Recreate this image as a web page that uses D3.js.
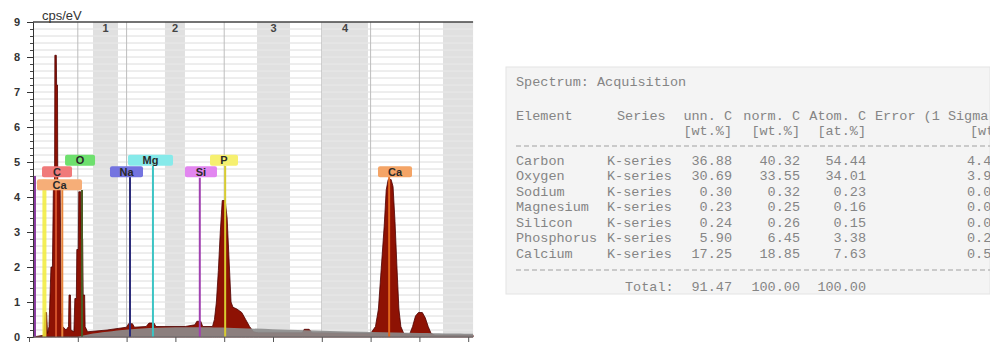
<!DOCTYPE html>
<html><head><meta charset="utf-8">
<script src="https://cdn.jsdelivr.net/npm/d3@7"></script>
<style>body{margin:0;background:#fff}svg{display:block}</style>
</head><body><svg id="c" width="990" height="342"></svg>
<script>
// ---------- spectrum data (keV, cps/eV) ----------
const spectrumKeV = [0.04,0.15,0.165,0.18,0.19,0.205,0.225,0.24,0.25,0.262,0.265,0.28,0.283,0.292,0.295,0.32,0.33,0.345,0.38,0.405,0.41,0.425,0.43,0.46,0.47,0.485,0.49,0.505,0.51,0.53,0.535,0.55,0.555,0.57,0.575,0.6,0.8,1.0,1.02,1.06,1.08,1.2,1.23,1.28,1.3,1.6,1.7,1.72,1.76,1.78,1.88,1.9,1.92,1.94,1.96,1.98,2.01,2.03,2.05,2.07,2.09,2.13,2.18,2.22,2.26,2.3,2.35,2.8,2.82,2.87,2.9,3.5,3.55,3.58,3.61,3.64,3.66,3.68,3.71,3.73,3.75,3.77,3.79,3.81,3.84,3.9,3.93,3.96,3.99,4.03,4.06,4.09,4.12,4.16,4.55];
const spectrumCps = [0,0.05,0.7,0.7,0.1,0.3,2.0,2.0,4.3,4.3,8.05,8.05,7.2,7.2,4.3,4.2,0.7,0.3,0.2,0.3,1.2,1.2,0.2,0.15,1.1,1.1,2.5,2.5,4.15,4.15,2.8,2.8,1.2,1.2,0.3,0.15,0.2,0.28,0.38,0.38,0.28,0.3,0.4,0.4,0.3,0.3,0.35,0.45,0.45,0.3,0.3,0.5,1.0,1.9,3.0,3.9,3.9,3.4,2.2,1.0,0.85,0.8,0.7,0.5,0.3,0.15,0.12,0.12,0.22,0.22,0.12,0.1,0.3,0.8,2.0,3.2,4.2,4.5,4.5,4.3,3.3,2.0,0.8,0.3,0.1,0.08,0.3,0.6,0.7,0.7,0.55,0.3,0.1,0.05,0.05];
const backgroundKeV = [0.5,0.6,0.8,1.0,1.3,1.7,2.0,2.5,3.0,3.5,4.0,4.55];
const backgroundCps = [0,0.08,0.15,0.22,0.27,0.28,0.27,0.22,0.18,0.14,0.11,0.09];

// ---------- axes ----------
const yMajorTicks = [0,1,2,3,4,5,6,7,8,9];
const yUnitLabel = "cps/eV";
const xTickKeV = [0,0.5,1,1.5,2,2.5,3,3.5,4,4.5];

// ---------- shaded windows ----------
const bandStartKeV = [0.656,1.393,2.336,3.002,4.242];
const bandEndKeV   = [0.912,1.598,2.674,3.473,4.55];
const bandLabels   = ["1","2","3","4",""];

// ---------- element marker lines ----------
const markerKeV   = [0.061,0.158,0.277,0.341,0.543,1.035,1.27,1.75,2.01,3.69];
const markerTop   = [4.6,4.5,4.57,4.2,4.2,4.57,4.89,4.55,4.89,4.57];
const markerColor = ["#8a3aa0","#f2ec3a","#d2502a","#e8843a","#4a5a22","#2c2c7a","#3cc4c4","#a040b0","#d8cc30","#e0661e"];

// ---------- element labels ----------
const labelText  = ["O","Mg","P","C","Na","Si","Ca","Ca"];
const labelKeV   = [0.523,1.245,1.998,0.287,0.999,1.762,3.75,0.3125];
const labelLevel = [5.05,5.05,5.05,4.72,4.72,4.72,4.72,4.35];
const labelWidth = [30,45,28,30,33,32,34,45];
const labelColor = ["#6ee06e","#86eaea","#f6f070","#f07a7a","#7474e0","#e286f0","#f4a466","#f6ae78"];

// ---------- quantification table ----------
const tableTitle = "Spectrum: Acquisition";
const tableHeaders = ["Element","Series","unn. C","norm. C","Atom. C","Error (1 Sigma)"];
const tableUnits = ["[wt.%]","[wt.%]","[at.%]","[wt.%]"];
const elements = ["Carbon","Oxygen","Sodium","Magnesium","Silicon","Phosphorus","Calcium"];
const series = ["K-series","K-series","K-series","K-series","K-series","K-series","K-series"];
const unnC  = ["36.88","30.69","0.30","0.23","0.24","5.90","17.25"];
const normC = ["40.32","33.55","0.32","0.25","0.26","6.45","18.85"];
const atomC = ["54.44","34.01","0.23","0.16","0.15","3.38","7.63"];
const errC  = ["4.4","3.9","0.0","0.0","0.0","0.2","0.5"];
const totalRow = ["Total:","91.47","100.00","100.00"];

// ================== drawing ==================
const svg = d3.select("#c");
const x = d3.scaleLinear().domain([0,4.5]).range([29,468.2]);
const y = d3.scaleLinear().domain([0,9]).range([337,22]);
const xL = x(0.041), xR = x(4.55);

const plot = svg.append("g");
plot.append("rect").attr("x",xL).attr("y",y(9)).attr("width",xR-xL).attr("height",y(0)-y(9)).attr("fill","#fff");

const minor = d3.range(1,45).map(i=>i*0.2);
plot.selectAll("line.hg").data(minor).join("line")
  .attr("x1",xL).attr("x2",xR).attr("y1",d=>y(d)).attr("y2",d=>y(d))
  .attr("stroke","#dcdcdc").attr("stroke-width",1);
plot.selectAll("line.vg").data(xTickKeV.filter(d=>d>0)).join("line")
  .attr("x1",d=>x(d)).attr("x2",d=>x(d)).attr("y1",y(9)).attr("y2",y(0))
  .attr("stroke","#bdbdbd").attr("stroke-width",1);

const bands = bandStartKeV.map((s,i)=>({s,e:bandEndKeV[i],label:bandLabels[i]}));
plot.selectAll("rect.band").data(bands).join("rect")
  .attr("x",d=>x(d.s)).attr("width",d=>x(d.e)-x(d.s))
  .attr("y",y(9)).attr("height",y(0)-y(9)).attr("fill","#e0e0e0");
bands.forEach(b=>{
  plot.append("g").selectAll("line").data(minor).join("line")
    .attr("x1",x(b.s)).attr("x2",x(b.e)).attr("y1",d=>y(d)).attr("y2",d=>y(d))
    .attr("stroke","#e9e9e9").attr("stroke-width",1);
});
plot.selectAll("text.bl").data(bands).join("text")
  .attr("x",d=>(x(d.s)+x(d.e))/2).attr("y",32).attr("text-anchor","middle")
  .attr("font-family","Liberation Sans, Arial").attr("font-weight","bold").attr("font-size",11)
  .attr("fill","#444").text(d=>d.label);

// spectrum
const spec = spectrumKeV.map((k,i)=>[k,spectrumCps[i]]);
const area = d3.area().x(d=>x(d[0])).y0(y(0)).y1(d=>y(d[1]));
plot.append("path").datum(spec).attr("d",area)
  .attr("fill","#8e1204").attr("stroke","#4e0000").attr("stroke-width",0.8);
const bg = backgroundKeV.map((k,i)=>[k,backgroundCps[i]]);
plot.append("path").datum(bg).attr("d",area.curve(d3.curveBasis))
  .attr("fill","#8c8c8c").attr("opacity",0.9);

// markers
plot.selectAll("line.mk").data(markerKeV).join("line")
  .attr("x1",d=>x(d)).attr("x2",d=>x(d)).attr("y1",(d,i)=>y(markerTop[i])).attr("y2",y(0))
  .attr("stroke",(d,i)=>markerColor[i]).attr("stroke-width",(d,i)=>i===1?4:2)
  .attr("opacity",(d,i)=>i===1?0.85:1);

// labels
const lg = plot.selectAll("g.lab").data(labelText).join("g")
  .attr("transform",(d,i)=>`translate(${x(labelKeV[i])},${y(labelLevel[i])})`);
lg.append("rect").attr("x",(d,i)=>-labelWidth[i]/2).attr("y",-5.5)
  .attr("width",(d,i)=>labelWidth[i]).attr("height",11).attr("rx",2)
  .attr("fill",(d,i)=>labelColor[i]);
lg.append("text").attr("y",4).attr("text-anchor","middle")
  .attr("font-family","Liberation Sans, Arial").attr("font-size",11).attr("font-weight","bold")
  .attr("fill","#2a2a2a").text(d=>d);

// axes
const yMinorAxis = d3.axisLeft(y).tickValues(d3.range(0,45).map(i=>i*0.2)).tickSize(3).tickFormat("");
const ga = svg.append("g").attr("transform",`translate(${xL},0)`).call(yMinorAxis);
ga.select(".domain").remove();
ga.selectAll("line").attr("stroke","#444");
const yMajorAxis = d3.axisLeft(y).tickValues(yMajorTicks).tickSize(6).tickPadding(7).tickFormat(d3.format("d"));
const gb = svg.append("g").attr("transform",`translate(${xL},0)`).call(yMajorAxis);
gb.select(".domain").attr("stroke","#333");
gb.selectAll("line").attr("stroke","#333");
gb.selectAll("text").attr("font-family","Liberation Sans, Arial").attr("font-size",11)
  .attr("font-weight","bold").attr("fill","#333").attr("dy","0.3em");

const xAxis = d3.axisBottom(x).tickValues(xTickKeV).tickSize(5).tickFormat("");
const gx = svg.append("g").attr("transform",`translate(0,${y(0)})`).call(xAxis);
gx.select(".domain").attr("d",`M${xL},0H${xR}`).attr("stroke","#666");
gx.selectAll("line").attr("stroke","#555");

svg.append("line").attr("x1",xL).attr("x2",xR).attr("y1",y(9)).attr("y2",y(9))
  .attr("stroke","#444").attr("stroke-width",1.5);
svg.append("text").attr("x",42).attr("y",20).attr("font-family","Liberation Sans, Arial")
  .attr("font-size",13).attr("fill","#333").text(yUnitLabel);

// ================== table ==================
svg.append("rect").attr("x",506).attr("y",67).attr("width",484).attr("height",227)
  .attr("fill","#f4f4f4").attr("stroke","#e4e4e4");
const tg = svg.append("g").attr("font-family","Liberation Mono, monospace").attr("font-size",13.5).attr("fill","#858585");
const tx0 = 516;
const colEnd = {unn:732, norm:800, atom:866};
tg.append("text").attr("x",tx0).attr("y",86).text(tableTitle);
tg.append("text").attr("x",tx0).attr("y",120).text(tableHeaders[0]);
tg.append("text").attr("x",617).attr("y",120).text(tableHeaders[1]);
tg.append("text").attr("x",colEnd.unn).attr("y",120).attr("text-anchor","end").text(tableHeaders[2]);
tg.append("text").attr("x",colEnd.norm).attr("y",120).attr("text-anchor","end").text(tableHeaders[3]);
tg.append("text").attr("x",colEnd.atom).attr("y",120).attr("text-anchor","end").text(tableHeaders[4]);
tg.append("text").attr("x",875).attr("y",120).text(tableHeaders[5]);
tg.append("text").attr("x",colEnd.unn).attr("y",135).attr("text-anchor","end").text(tableUnits[0]);
tg.append("text").attr("x",colEnd.norm).attr("y",135).attr("text-anchor","end").text(tableUnits[1]);
tg.append("text").attr("x",colEnd.atom).attr("y",135).attr("text-anchor","end").text(tableUnits[2]);
tg.append("text").attr("x",970).attr("y",135).text(tableUnits[3]);
[146,270].forEach(yy=>{
  tg.append("line").attr("x1",tx0).attr("x2",990).attr("y1",yy).attr("y2",yy)
    .attr("stroke","#a0a0a0").attr("stroke-width",1).attr("stroke-dasharray","5,3");
});
const rowY = i => 164.5 + i*15.5;
const rows = tg.selectAll("g.row").data(elements).join("g");
rows.append("text").attr("x",tx0).attr("y",(d,i)=>rowY(i)).text(d=>d);
rows.append("text").attr("x",607).attr("y",(d,i)=>rowY(i)).text((d,i)=>series[i]);
rows.append("text").attr("x",colEnd.unn).attr("y",(d,i)=>rowY(i)).attr("text-anchor","end").text((d,i)=>unnC[i]);
rows.append("text").attr("x",colEnd.norm).attr("y",(d,i)=>rowY(i)).attr("text-anchor","end").text((d,i)=>normC[i]);
rows.append("text").attr("x",colEnd.atom).attr("y",(d,i)=>rowY(i)).attr("text-anchor","end").text((d,i)=>atomC[i]);
rows.append("text").attr("x",967).attr("y",(d,i)=>rowY(i)).text((d,i)=>errC[i]);
tg.append("text").attr("x",625).attr("y",291).text(totalRow[0]);
tg.append("text").attr("x",colEnd.unn).attr("y",291).attr("text-anchor","end").text(totalRow[1]);
tg.append("text").attr("x",colEnd.norm).attr("y",291).attr("text-anchor","end").text(totalRow[2]);
tg.append("text").attr("x",colEnd.atom).attr("y",291).attr("text-anchor","end").text(totalRow[3]);
</script></body></html>
